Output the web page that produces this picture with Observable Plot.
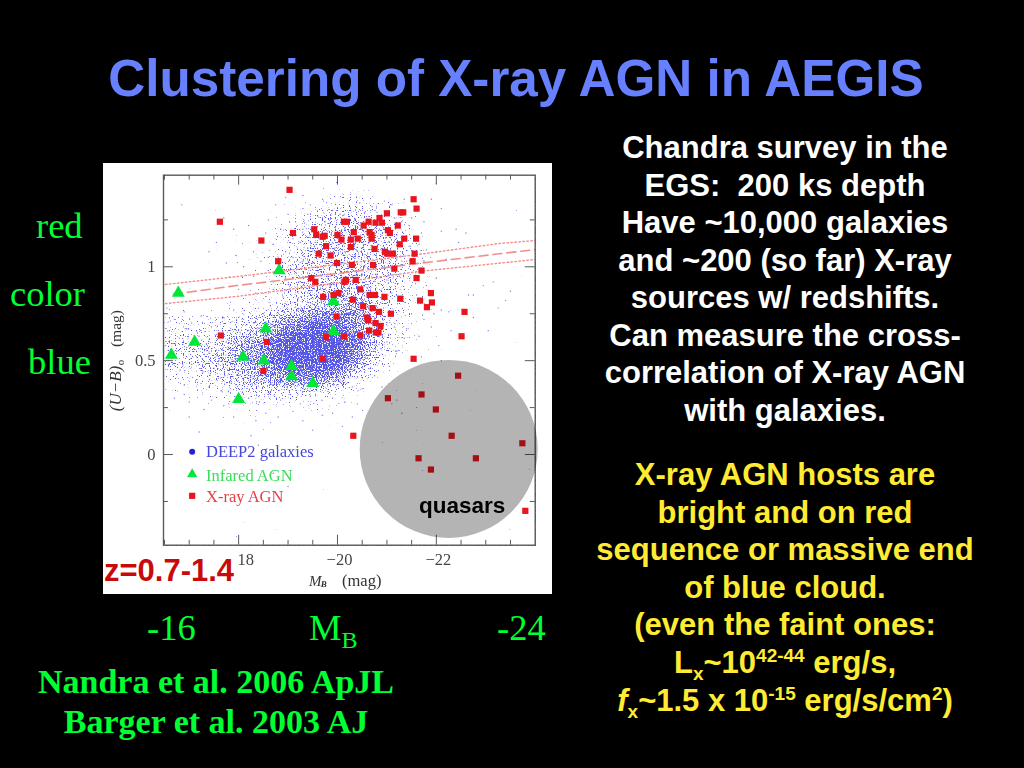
<!DOCTYPE html>
<html><head><meta charset="utf-8">
<script src="https://cdn.jsdelivr.net/npm/d3@7"></script>
<script src="https://cdn.jsdelivr.net/npm/@observablehq/plot@0.6"></script>
<style>
html,body{margin:0;padding:0;background:#000;width:1024px;height:768px;overflow:hidden}
.t{position:absolute;white-space:nowrap}
.sans{font-family:"Liberation Sans",Arial,sans-serif;font-weight:bold}
.serif{font-family:"Liberation Serif","Times New Roman",serif}
.green{color:#00ff33}
#title{left:0;width:1032px;top:51px;text-align:center;font-size:51.2px;line-height:56px;color:#6680ff}
#white{left:585px;width:400px;top:129px;text-align:center;font-size:31px;line-height:37.5px;color:#fff}
#yellow{left:585px;width:400px;top:456px;text-align:center;font-size:31px;line-height:37.6px;color:#ffeb33}
sup,sub{font-size:19px;line-height:0}
#plot{position:absolute;left:103px;top:163px;width:449px;height:431px;background:#fff;filter:blur(.4px)}
#plot svg{display:block}
</style></head><body>
<div class="t sans" id="title">Clustering of X-ray AGN in AEGIS</div>
<div id="plot"></div>
<div class="t sans" style="left:104px;top:554px;font-size:31px;line-height:34px;color:#c80a0a">z=0.7-1.4</div>
<div class="t sans" id="white">Chandra survey in the<br>EGS:&nbsp; 200 ks depth<br>Have ~10,000 galaxies<br>and ~200 (so far) X-ray<br>sources w/ redshifts.<br>Can measure the cross-<br>correlation of X-ray AGN<br>with galaxies.</div>
<div class="t sans" id="yellow">X-ray AGN hosts are<br>bright and on red<br>sequence or massive end<br>of blue cloud.<br>(even the faint ones:<br>L<sub>x</sub>~10<sup>42-44</sup> erg/s,<br><i>f</i><sub>x</sub>~1.5 x 10<sup>-15</sup> erg/s/cm<sup>2</sup>)</div>
<div class="t serif green" style="left:36px;top:207px;font-size:36.5px;line-height:38px">red</div>
<div class="t serif green" style="left:10px;top:275px;font-size:36.5px;line-height:38px">color</div>
<div class="t serif green" style="left:28px;top:343px;font-size:36.5px;line-height:38px">blue</div>
<div class="t serif green" style="left:147px;top:609px;font-size:36.5px;line-height:38px">-16</div>
<div class="t serif green" style="left:309px;top:609px;font-size:36.5px;line-height:38px">M<sub style="font-size:24px">B</sub></div>
<div class="t serif green" style="left:497px;top:609px;font-size:36.5px;line-height:38px">-24</div>
<div class="t serif green" style="left:0;width:432px;text-align:center;top:662px;font-size:34px;line-height:40px;font-weight:bold">Nandra et al. 2006 ApJL<br>Barger et al. 2003 AJ</div>
<script>
// X-ray AGN (M_B, U-B)
const xrayAgn = [[-19.03,1.41],[-17.62,1.24],[-19.10,1.18],[-18.46,1.14],[-19.53,1.20],[-19.57,1.17],[-19.70,1.16],[-19.74,1.165],[-19.77,1.11],[-19.62,1.07],[-18.80,1.03],[-19.47,.94],[-19.55,.92],[-19.71,.84],[-19.77,.625],[-17.64,.634],[-18.57,.60],[-19.70,.51],[-18.50,.445],
[-21.54,1.36],[-21.60,1.31],[-21.00,1.285],[-21.28,1.29],[-21.33,1.29],[-20.85,1.26],[-20.77,1.235],[-20.63,1.24],[-20.53,1.22],[-20.90,1.235],[-20.13,1.24],[-20.19,1.24],[-21.22,1.22],[-21.02,1.195],[-21.06,1.18],[-20.33,1.185],[-20.65,1.185],[-20.69,1.17],[-20.69,1.15],[-20.00,1.17],[-20.08,1.145],[-20.27,1.145],[-20.41,1.15],[-21.35,1.15],[-21.59,1.15],[-21.26,1.12],[-20.27,1.105],[-20.75,1.095],[-20.96,1.08],[-21.01,1.07],[-21.12,1.07],[-21.56,1.07],[-19.86,1.06],[-21.52,1.03],[-19.99,1.02],[-20.29,1.01],[-20.72,1.01],[-21.15,.99],[-21.70,.98],[-21.60,.94],[-20.17,.93],[-20.14,.92],[-20.37,.93],[-20.46,.88],[-21.89,.86],[-19.92,.85],[-20.02,.86],[-20.65,.85],[-20.76,.85],[-20.95,.84],[-21.27,.83],[-20.31,.825],[-21.67,.82],[-21.91,.81],[-20.52,.79],[-20.71,.78],[-20.84,.76],[-21.81,.785],[-21.08,.75],[-22.57,.76],[-19.98,.735],[-20.60,.73],[-20.62,.715],[-20.77,.70],[-20.87,.685],[-20.64,.66],[-20.78,.65],[-20.83,.65],[-20.46,.635],[-20.13,.63],[-22.51,.63],[-21.54,.51],[-22.44,.42],
[-21.02,.30],[-21.70,.32],[-21.99,.24],[-20.32,.10],[-22.31,.10],[-23.74,.06],[-21.64,-.02],[-22.80,-.02],[-21.89,-.08],[-23.80,-.30]];
// Infrared AGN
const infraredAgn = [[-16.78,.86],[-18.82,.98],[-18.55,.67],[-17.11,.60],[-16.64,.53],[-18.09,.52],[-18.51,.50],[-19.07,.47],[-19.07,.415],[-19.50,.38],[-18.0,.295],[-19.92,.817],[-19.92,.657]];
// DEEP2 galaxies: relative density read by eye
const densityX = [-16.5,-17,-17.5,-18,-18.5,-19,-19.5,-20,-20.5,-21,-21.5,-22,-22.5,-23];
const densityY = [1.5,1.4,1.3,1.2,1.1,1.0,.9,.8,.7,.6,.5,.4,.3,.2,.1,0];
const densityRows = [
[0,0,0,0,0,0,0,0,0,0,0,0,0,0],
[0,0,0,0,0,0,1,2,2,1,0,0,0,0],
[0,0,0,0,0,2,3,4,4,3,1,0,0,0],
[0,0,0,0,1,3,4,5,5,4,3,0,0,0],
[0,0,0,1,2,3,5,5,5,5,3,1,0,0],
[0,0,0,1,2,4,5,5,5,5,3,1,0,0],
[0,0,1,1,2,4,5,5,5,4,3,1,0,0],
[1,1,1,2,3,4,5,6,6,4,3,1,0,0],
[3,3,3,4,5,7,8,8,6,4,2,1,0,0],
[4,4,4,6,7,9,9,9,7,4,2,1,0,0],
[4,4,5,6,7,9,9,9,6,3,1,0,0,0],
[3,3,4,5,6,7,7,6,3,1,1,0,0,0],
[1,1,2,3,3,3,3,2,1,0,0,0,0,0],
[0,0,1,1,1,1,1,1,0,0,0,0,0,0],
[0,0,0,0,1,0,0,0,0,0,0,0,0,0],
[0,0,0,0,0,0,0,0,0,0,0,0,0,0]];
// individual galaxies read by eye
const sparseGalaxies = [[-16.85,1.33],[-17.7,1.26],[-17.55,1.13],[-17.9,1.2],[-18.2,1.22],[-17.4,1.08],[-17.95,1.06],[-17.75,1.02],[-18.3,1.08],[-18.1,1.0],[-18.45,1.03],[-18.6,1.25],[-18.7,1.12],[-18.55,1.18],[-18.75,1.33],[-18.95,1.37],[-22.1,1.19],[-22.4,1.2],[-22.45,1.13],[-22.6,1.18],[-21.9,1.36],[-22.1,1.31],[-22.0,1.08],[-22.2,1.04],[-22.95,.9],[-23.15,.92],[-23.5,.87],[-22.65,.85],[-22.75,.85],[-23.4,.82],[-23.25,.78],[-23.05,.66],[-22.75,.73],[-22.1,.77],[-22.25,.76],[-22.3,.66],[-22.05,.58],[-21.7,.52],[-22.1,.50],[-17.2,.12],[-18.35,.18],[-18.25,.1],[-18.4,.05],[-17.0,.2],[-19.7,.21],[-19.3,.18],[-19.5,.13],[-20.1,.15],[-20.9,.36],[-21.1,.27],[-21.2,.29],[-21.3,.22],[-21.6,.25],[-18.7,-.1],[-19.0,-.17],[-16.9,.32],[-17.3,.24],[-17.8,.27]];
const redSequenceGalaxies = [[-19.3,1.38],[-19.45,1.33],[-19.7,1.36],[-19.9,1.3],[-20.1,1.37],[-20.25,1.3],[-20.45,1.34],[-20.7,1.32],[-20.95,1.35],[-21.1,1.33],[-21.35,1.36],[-21.5,1.26],[-21.75,1.24],[-21.7,1.18],[-19.0,1.28],[-19.15,1.24],[-19.3,1.2],[-19.4,1.28],[-19.6,1.27],[-19.85,1.23],[-20.05,1.28],[-20.35,1.25],[-20.55,1.29],[-20.8,1.29],[-21.15,1.26],[-21.45,1.22],[-18.85,1.2],[-19.25,1.13],[-19.4,1.1],[-19.55,1.13],[-19.9,1.13],[-20.15,1.2],[-20.4,1.21],[-20.85,1.2],[-21.2,1.17],[-21.45,1.11],[-21.65,1.12],[-21.8,1.09],[-18.6,1.05],[-18.95,1.08],[-19.1,1.05],[-19.3,1.03],[-19.5,1.02],[-19.75,1.02],[-19.95,1.1],[-20.15,1.08],[-20.5,1.1],[-20.6,1.05],[-20.85,1.06],[-21.2,1.04],[-21.4,1.03],[-21.75,1.03],[-18.3,.95],[-18.6,.98],[-18.95,.94],[-19.15,.97],[-19.3,.9],[-19.6,.98],[-19.8,.96],[-20.05,.98],[-20.3,.95],[-20.5,.96],[-20.8,.96],[-21.0,.93],[-21.25,.95],[-21.5,.9],[-21.8,.9],[-22.0,.94],[-18.0,.88],[-18.35,.86],[-18.7,.88],[-18.9,.84],[-19.2,.83],[-19.4,.86],[-19.65,.88],[-19.85,.9],[-20.1,.88],[-20.4,.83],[-20.6,.89],[-20.85,.88],[-21.1,.86],[-21.35,.88],[-21.6,.85],[-21.95,.75],[-20.2,1.03],[-20.55,1.0],[-19.1,1.15],[-20.75,1.14],[-21.05,1.13],[-21.3,1.24],[-19.75,1.24],[-18.4,.78],[-21.5,.75],[-21.75,.72],[-21.9,.68],[-21.4,.67],[-21.65,.63]];
const blueCloudGalaxies = [[-16.55,.78],[-16.7,.72],[-16.9,.76],[-17.05,.7],[-17.25,.74],[-17.45,.68],[-17.7,.73],[-17.9,.77],[-18.1,.72],[-18.3,.7],[-18.5,.75],[-18.7,.74],[-18.85,.7],[-19.05,.72],[-19.2,.77],[-19.4,.73],[-19.55,.76],[-19.7,.72],[-19.9,.77],[-20.05,.71],[-20.25,.75],[-20.45,.72],[-20.7,.67],[-20.95,.72],[-21.15,.68],[-21.35,.62],[-16.6,.66],[-16.8,.62],[-16.95,.67],[-17.2,.63],[-17.35,.59],[-17.55,.64],[-17.75,.6],[-17.95,.66],[-18.15,.62],[-18.35,.64],[-18.6,.68],[-18.8,.62],[-18.95,.66],[-19.15,.63],[-19.3,.68],[-19.45,.62],[-19.6,.67],[-19.8,.63],[-19.95,.67],[-20.2,.64],[-20.35,.68],[-20.55,.62],[-20.75,.6],[-21.0,.6],[-21.2,.55],[-16.52,.58],[-16.75,.55],[-16.95,.57],[-17.15,.52],[-17.4,.54],[-17.6,.5],[-17.85,.56],[-18.05,.58],[-18.25,.55],[-18.45,.58],[-18.65,.56],[-18.8,.53],[-18.95,.58],[-19.12,.55],[-19.25,.6],[-19.38,.55],[-19.52,.58],[-19.68,.54],[-19.82,.57],[-19.98,.55],[-20.12,.6],[-20.28,.55],[-20.45,.56],[-20.65,.53],[-20.85,.5],[-21.05,.47],[-16.58,.48],[-16.82,.45],[-17.05,.48],[-17.28,.44],[-17.5,.46],[-17.72,.42],[-17.92,.47],[-18.12,.49],[-18.32,.46],[-18.55,.52],[-18.72,.47],[-18.9,.5],[-19.02,.44],[-19.18,.49],[-19.33,.45],[-19.47,.5],[-19.6,.45],[-19.75,.49],[-19.88,.45],[-20.02,.49],[-20.18,.46],[-20.35,.47],[-20.55,.44],[-20.75,.42],[-16.62,.4],[-16.9,.37],[-17.15,.4],[-17.4,.36],[-17.65,.34],[-17.85,.38],[-18.1,.4],[-18.28,.37],[-18.45,.4],[-18.65,.38],[-18.82,.41],[-18.98,.36],[-19.15,.4],[-19.32,.37],[-19.55,.38],[-19.72,.41],[-19.92,.37],[-20.1,.39],[-20.3,.36],[-20.5,.35],[-16.7,.3],[-17.0,.28],[-17.45,.29],[-17.7,.26],[-17.95,.31],[-18.2,.3],[-18.42,.28],[-18.6,.32],[-18.85,.29],[-19.05,.32],[-19.25,.27],[-19.45,.31],[-19.68,.29],[-19.9,.3],[-20.15,.28],[-20.4,.27],[-18.55,.22],[-18.8,.2],[-19.1,.23],[-17.9,.2],[-19.9,.22],[-20.3,.2]];
const denseCoreGalaxies = [[-19.05,.6],[-19.1,.57],[-19.2,.53],[-19.22,.63],[-19.28,.51],[-19.35,.59],[-19.42,.64],[-19.45,.53],[-19.5,.69],[-19.55,.51],[-19.6,.6],[-19.63,.55],[-19.7,.63],[-19.72,.47],[-19.78,.52],[-19.8,.68],[-19.85,.6],[-19.9,.53],[-19.95,.63],[-20.0,.58],[-20.05,.52],[-20.1,.66],[-20.15,.56],[-20.2,.5],[-18.5,.62],[-18.7,.6],[-18.88,.56],[-18.9,.64],[-19.0,.52],[-19.12,.66],[-19.16,.46],[-19.28,.42],[-19.38,.48],[-19.42,.42],[-19.62,.42],[-19.65,.7],[-19.72,.74],[-19.88,.72],[-20.0,.74],[-20.12,.73],[-18.45,.5],[-18.62,.5],[-18.78,.45],[-20.3,.61],[-20.4,.64],[-20.25,.51]];
const legendMarkers = {x:-17.06, dot:.015, triangle:-.105, square:-.22};
const legendLabels = ["DEEP2 galaxies","Infared AGN","X-ray AGN"];
const legendColors = ["#4646dc","#3cdc5a","#e63c46"];
const legendY = [.013,-.112,-.225];
const legendTextX = -17.34;
// fit lines
const fitMid = [[-16.68,.854],[-17.96,.90],[-19.32,.943],[-20.83,.991],[-21.64,1.018],[-24,1.092]];
const fitUpper = [[-16.52,.906],[-17.96,.948],[-19.32,.991],[-21.64,1.066],[-23.26,1.124],[-24,1.14]];
const fitLower = [[-16.52,.804],[-17.96,.842],[-19.32,.89],[-21.64,.975],[-24,1.039]];
// axes
const xDomain = [-16.48,-24], yDomain = [-.483,1.488];
const xMajor = [-18,-20,-22];
const xMinor = [-16.5,-17,-17.5,-18.5,-19,-19.5,-20.5,-21,-21.5,-22.5,-23,-23.5];
const yMajor = [0,.5,1];
const yMinor = [-.25,.25,.75,1.25];
const xLabelsPlain = [{v:-20,t:"−20"},{v:-22,t:"−22"}];
const xLabelShifted = [{v:-18,t:"18"}];
const yLabels = [{v:0,t:"0"},{v:.5,t:"0.5"},{v:1,t:"1"}];
const quasarCircle = [{x:-22.25,y:.03}];

const cells = densityRows.flatMap((r,i)=>r.map((v,j)=>({x:densityX[j],y:densityY[i],v})));
const galaxies = [...sparseGalaxies,...redSequenceGalaxies,...blueCloudGalaxies,...denseCoreGalaxies];
const ink = "#5a5a5a", tickInk="#5a5a5a", cm = "'Liberation Serif',serif";
const [xL,xR]=xDomain,[yB,yT]=yDomain;
const chart = Plot.plot({
  width:449,height:431,marginLeft:60,marginRight:17.3,marginTop:11.7,marginBottom:49.3,
  style:{background:"transparent",fontFamily:cm},
  x:{domain:xDomain,axis:null},y:{domain:yDomain,axis:null},
  color:{type:"linear",domain:[0,9],range:["#ffffff","#000000"],legend:false},
  marks:[
    Plot.raster(cells,{x:"x",y:"y",fill:"v",interpolate:"barycentric",pixelSize:1}),
    Plot.dot(galaxies,{x:d=>d[0],y:d=>d[1],r:.7,fill:"#4a4ae0",fillOpacity:.7}),
    Plot.line(fitMid,{x:d=>d[0],y:d=>d[1],stroke:"#f0908c",strokeWidth:1.6,strokeDasharray:"9,5"}),
    Plot.line(fitUpper,{x:d=>d[0],y:d=>d[1],stroke:"#f0908c",strokeWidth:1.4,strokeDasharray:"1.5,2.5"}),
    Plot.line(fitLower,{x:d=>d[0],y:d=>d[1],stroke:"#f0908c",strokeWidth:1.4,strokeDasharray:"1.5,2.5"}),
    Plot.frame({stroke:ink,strokeWidth:1.4}),
    Plot.ruleX(xMajor,{y1:yB,y2:yB+.053,stroke:tickInk}),
    Plot.ruleX(xMajor,{y1:yT,y2:yT-.053,stroke:tickInk}),
    Plot.ruleX(xMinor,{y1:yB,y2:yB+.026,stroke:tickInk}),
    Plot.ruleX(xMinor,{y1:yT,y2:yT-.026,stroke:tickInk}),
    Plot.ruleY(yMajor,{x1:xL,x2:xL-.2,stroke:tickInk}),
    Plot.ruleY(yMajor,{x1:xR,x2:xR+.2,stroke:tickInk}),
    Plot.ruleY(yMinor,{x1:xL,x2:xL-.1,stroke:tickInk}),
    Plot.ruleY(yMinor,{x1:xR,x2:xR+.1,stroke:tickInk}),
    Plot.text(xLabelsPlain,{x:"v",y:yB,text:"t",dx:2,dy:15,fontSize:16.5,fill:"#444",style:{letterSpacing:"1px"}}),
    Plot.text(xLabelShifted,{x:"v",y:yB,text:"t",dx:7,dy:15,fontSize:16.5,fill:"#444",style:{letterSpacing:"1px"}}),
    Plot.text(yLabels,{x:xL,y:"v",text:"t",dx:-8,textAnchor:"end",fontSize:16.5,fill:"#444",style:{letterSpacing:"1px"}}),
    Plot.text(["(U−B)"],{x:-15.51,y:.352,text:d=>d,rotate:-90,fontSize:17,fontStyle:"italic",fill:"#333",style:{letterSpacing:"2px"}}),
    Plot.text(["o"],{x:-15.6,y:.49,text:d=>d,rotate:-90,fontSize:11,fill:"#333"}),
    Plot.text(["(mag)"],{x:-15.51,y:.671,text:d=>d,rotate:-90,fontSize:15.5,fill:"#333",style:{letterSpacing:"1.2px"}}),
    Plot.text(["M"],{x:-19.55,y:yB,dy:36,text:d=>d,fontSize:15,fontStyle:"italic",fill:"#333"}),
    Plot.text(["B"],{x:-19.72,y:yB,dy:39,text:d=>d,fontSize:9,fontWeight:"bold",fontStyle:"italic",fill:"#333"}),
    Plot.text(["(mag)"],{x:-20.49,y:yB,dy:36,text:d=>d,fontSize:16.5,fill:"#333",style:{letterSpacing:"1.5px"}}),
    Plot.dot(infraredAgn,{x:d=>d[0],y:d=>d[1],symbol:"triangle",r:4.8,fill:"#00e639"}),
    Plot.dot(xrayAgn,{x:d=>d[0],y:d=>d[1],symbol:"square",r:3.5,fill:"#e8141e"}),
    Plot.dot([legendMarkers],{x:"x",y:"dot",r:3,fill:"#2222d4"}),
    Plot.dot([legendMarkers],{x:"x",y:"triangle",symbol:"triangle",r:3.8,fill:"#00e639"}),
    Plot.dot([legendMarkers],{x:"x",y:"square",symbol:"square",r:3.5,fill:"#e8141e"}),
    Plot.text(legendLabels,{x:legendTextX,y:(d,i)=>legendY[i],text:d=>d,textAnchor:"start",fontSize:16.5,fill:(d,i)=>legendColors[i],style:{letterSpacing:"2.8px"}}),
    Plot.dot(quasarCircle,{x:"x",y:"y",r:89,fill:"#b4b4b4",mixBlendMode:"multiply"}),
    Plot.text(["quasars"],{x:-22.52,y:-.275,text:d=>d,fontSize:22.5,fontWeight:"bold",fill:"#000",fontFamily:"'Liberation Sans',sans-serif"})
  ]
});
// the density layer is shown as a stipple: a screen-texture threshold on the read density grid
const ns = "http://www.w3.org/2000/svg";
const defs = document.createElementNS(ns,"defs");
defs.innerHTML = `<filter id="grain" x="0" y="0" width="1" height="1" color-interpolation-filters="sRGB">
<feTurbulence type="fractalNoise" baseFrequency="0.85" numOctaves="1" seed="4" result="n"/>
<feColorMatrix in="n" type="matrix" values="1 0 0 0 0  1 0 0 0 0  1 0 0 0 0  0 0 0 0 1" result="g"/>
<feComposite in="g" in2="SourceGraphic" operator="arithmetic" k1="0" k2="1" k3="-0.43" k4="0.43" result="d"/>
<feColorMatrix in="d" type="matrix" values="12 0 0 0 -9.45  12 0 0 0 -9.45  12 0 0 0 -9.45  0 0 0 0 1" result="m"/>
<feColorMatrix in="m" type="matrix" values="-0.66 0 0 0 1  -0.66 0 0 0 1  -0.1 0 0 0 1  0 0 0 0 1"/></filter>`;
chart.prepend(defs);
const img = chart.querySelector("image");
if (img) img.setAttribute("filter","url(#grain)");
document.getElementById("plot").appendChild(chart);
</script>
</body></html>
